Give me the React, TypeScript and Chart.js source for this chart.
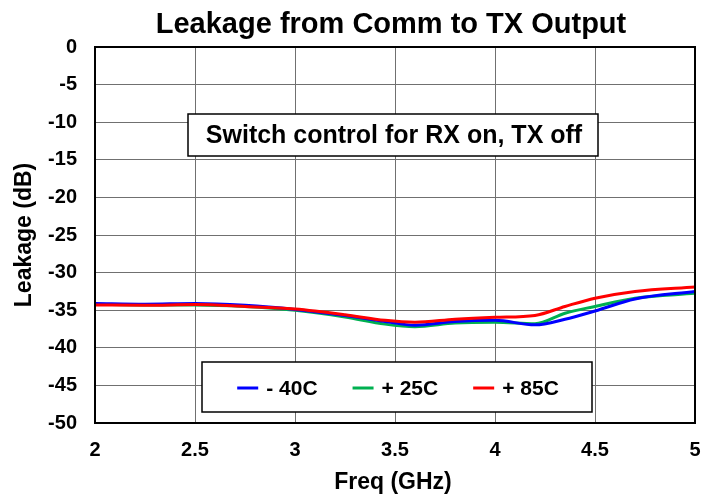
import React, { useEffect, useRef } from "react";
import { Chart, registerables } from "chart.js";

Chart.register(...registerables);

const chartTitle = "Leakage from Comm to TX Output";
const noteText = "Switch control for RX on, TX off";
const xAxisTitle = "Freq (GHz)";
const yAxisTitle = "Leakage (dB)";

const freqGHz = [2.0, 2.25, 2.5, 2.75, 3.0, 3.25, 3.45, 3.6, 3.8, 4.0, 4.2, 4.35, 4.5, 4.7, 5.0];
const leakMinus40 = [-34.1, -34.2, -34.1, -34.35, -34.9, -35.7, -36.5, -37.0, -36.5, -36.35, -36.95, -36.2, -35.1, -33.5, -32.5];
const leakPlus25 = [-34.2, -34.3, -34.3, -34.5, -35.0, -35.9, -36.85, -37.2, -36.7, -36.6, -36.8, -35.4, -34.5, -33.4, -32.75];
const leakPlus85 = [-34.3, -34.35, -34.25, -34.5, -34.85, -35.6, -36.35, -36.6, -36.2, -35.95, -35.7, -34.5, -33.4, -32.5, -31.9];

const seriesLabels = ["- 40C", "+ 25C", "+ 85C"];
const seriesColors = ["#0000ff", "#00b050", "#ff0000"];
const seriesOrder = [1, 2, 0];

const xMin = 2;
const xMax = 5;
const xStep = 0.5;
const yMin = -50;
const yMax = 0;
const yStep = 5;

const FONT = "'Liberation Sans', Arial, Helvetica, sans-serif";

const overlayPlugin = {
  id: "overlay",
  afterDraw(chart: any) {
    const ctx: CanvasRenderingContext2D = chart.ctx;
    const { left, right, top, bottom } = chart.chartArea;
    ctx.save();

    // frame
    ctx.strokeStyle = "#000";
    ctx.lineWidth = 2;
    ctx.strokeRect(left, top, right - left, bottom - top);

    // title
    ctx.fillStyle = "#000";
    ctx.font = `bold 29px ${FONT}`;
    ctx.textAlign = "center";
    ctx.textBaseline = "alphabetic";
    ctx.fillText(chartTitle, 391, 33);

    // axis titles
    ctx.font = `bold 23px ${FONT}`;
    ctx.fillText(xAxisTitle, 393, 489);
    ctx.save();
    ctx.translate(31, (top + bottom) / 2);
    ctx.rotate(-Math.PI / 2);
    ctx.fillText(yAxisTitle, 0, 0);
    ctx.restore();

    // note box
    ctx.fillStyle = "#fff";
    ctx.fillRect(188, 114, 410, 42);
    ctx.strokeStyle = "#000";
    ctx.lineWidth = 1.5;
    ctx.strokeRect(188, 114, 410, 42);
    ctx.fillStyle = "#000";
    ctx.font = `bold 25px ${FONT}`;
    ctx.textAlign = "center";
    ctx.fillText(noteText, 394, 143);

    // legend box
    const lx = 202, ly = 362, lw = 390, lh = 50;
    ctx.fillStyle = "#fff";
    ctx.fillRect(lx, ly, lw, lh);
    ctx.strokeRect(lx, ly, lw, lh);
    ctx.font = `bold 21px ${FONT}`;
    const lineLen = 21, gapA = 8, gapB = 35;
    const datasets = chart.data.datasets;
    const widths = datasets.map((d: any) => ctx.measureText(d.label).width);
    let total = 0;
    widths.forEach((w: number, i: number) => {
      total += lineLen + gapA + w + (i < widths.length - 1 ? gapB : 0);
    });
    let cx = lx + lw / 2 - total / 2 + 1;
    const cy = ly + 26;
    ctx.textAlign = "left";
    datasets.forEach((d: any, i: number) => {
      ctx.strokeStyle = d.borderColor;
      ctx.lineWidth = 3;
      ctx.beginPath();
      ctx.moveTo(cx, cy);
      ctx.lineTo(cx + lineLen, cy);
      ctx.stroke();
      ctx.fillStyle = "#000";
      ctx.fillText(d.label, cx + lineLen + gapA, cy + 7);
      cx += lineLen + gapA + widths[i] + gapB;
    });

    ctx.restore();
  },
};

export default function App() {
  const canvasRef = useRef<HTMLCanvasElement | null>(null);

  useEffect(() => {
    document.body.style.margin = "0";
    const canvas = canvasRef.current;
    if (!canvas) return;
    const seriesValues = [leakMinus40, leakPlus25, leakPlus85];
    const chart = new Chart(canvas, {
      type: "line",
      data: {
        datasets: seriesValues.map((vals, i) => ({
          label: seriesLabels[i],
          data: freqGHz.map((f, j) => ({ x: f, y: vals[j] })),
          borderColor: seriesColors[i],
          backgroundColor: seriesColors[i],
          borderWidth: 3,
          pointRadius: 0,
          fill: false,
          cubicInterpolationMode: "monotone" as const,
          order: seriesOrder[i],
        })),
      },
      options: {
        responsive: false,
        animation: false,
        devicePixelRatio: 1,
        layout: { padding: { top: 47, right: 6, left: 0, bottom: 0 } },
        plugins: {
          legend: { display: false },
          title: { display: false },
          tooltip: { enabled: false },
        },
        scales: {
          x: {
            type: "linear",
            min: xMin,
            max: xMax,
            ticks: {
              stepSize: xStep,
              color: "#000",
              font: { family: FONT, size: 20, weight: "bold" },
              padding: 15,
              maxRotation: 0,
              callback: (v: any) => String(Number(v)),
            },
            grid: { color: "#707070", lineWidth: 1, drawTicks: false },
            border: { display: false },
            afterFit: (scale: any) => {
              scale.height = 76;
              scale.paddingLeft = 0;
              scale.paddingRight = 0;
            },
          },
          y: {
            type: "linear",
            min: yMin,
            max: yMax,
            ticks: {
              stepSize: yStep,
              color: "#000",
              font: { family: FONT, size: 20, weight: "bold" },
              padding: 18,
            },
            grid: { color: "#707070", lineWidth: 1, drawTicks: false },
            border: { display: false },
            afterFit: (scale: any) => {
              scale.width = 95;
              scale.paddingTop = 0;
              scale.paddingBottom = 0;
            },
          },
        },
      },
      plugins: [overlayPlugin],
    });
    return () => chart.destroy();
  }, []);

  return (
    <div style={{ width: 701, height: 499, background: "#fff" }}>
      <canvas ref={canvasRef} width={701} height={499} style={{ display: "block" }} />
    </div>
  );
}
